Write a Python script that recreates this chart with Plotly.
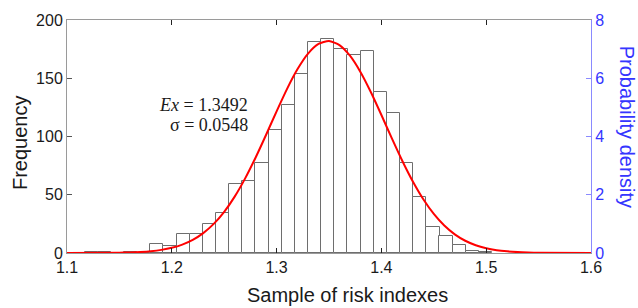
import plotly.graph_objects as go

# ---- data ----
bin_width = 0.01254
bin_centers = [1.1230, 1.1356, 1.1481, 1.1607, 1.1732, 1.1857, 1.1983, 1.2108,
               1.2234, 1.2359, 1.2485, 1.2610, 1.2736, 1.2861, 1.2986, 1.3112,
               1.3237, 1.3363, 1.3488, 1.3614, 1.3739, 1.3864, 1.3990, 1.4115,
               1.4241, 1.4366, 1.4492, 1.4617, 1.4743, 1.4868, 1.4993]
counts = [1, 1, 0, 1, 0, 8, 6, 16, 16, 25, 34, 59, 62, 77, 106, 127,
          154, 181, 184, 175, 170, 173, 138, 120, 77, 48, 22, 15, 7, 2, 1]

curve_x = [1.10, 1.15, 1.16, 1.17, 1.18, 1.19, 1.20, 1.21, 1.22, 1.23, 1.24,
           1.25, 1.26, 1.27, 1.28, 1.29, 1.30, 1.31, 1.32, 1.33, 1.34, 1.35,
           1.36, 1.37, 1.38, 1.39, 1.40, 1.41, 1.42, 1.43, 1.44, 1.45, 1.46,
           1.47, 1.48, 1.49, 1.50, 1.51, 1.52, 1.53, 1.54, 1.55, 1.60]
curve_density = [0.0, 0.010, 0.019, 0.035, 0.062, 0.107, 0.179, 0.289, 0.452,
                 0.683, 0.999, 1.414, 1.936, 2.563, 3.280, 4.061, 4.865, 5.637,
                 6.316, 6.847, 7.178, 7.279, 7.140, 6.774, 6.216, 5.518, 4.737,
                 3.934, 3.160, 2.455, 1.845, 1.341, 0.943, 0.641, 0.421, 0.268,
                 0.165, 0.098, 0.057, 0.031, 0.017, 0.009, 0.0]

ex_value = "1.3492"
sigma_value = "0.0548"

x_ticks = [1.1, 1.2, 1.3, 1.4, 1.5, 1.6]
y_ticks = [0, 50, 100, 150, 200]
y2_ticks = [0, 2, 4, 6, 8]

SANS = "Liberation Sans, Arial, sans-serif"
SERIF = "Liberation Serif, Times New Roman, serif"
BLUE_TXT = "#3535ff"
BLUE_LINE = "#8a8aff"

fig = go.Figure()
fig.add_trace(go.Bar(
    x=bin_centers, y=counts, width=bin_width,
    marker=dict(color="white", line=dict(color="#6e6e6e", width=1)),
    showlegend=False, hoverinfo="skip",
))
fig.add_trace(go.Scatter(
    x=curve_x, y=curve_density, yaxis="y2", mode="lines",
    line=dict(color="#ff0000", width=2, shape="spline", smoothing=0.6),
    showlegend=False,
))

fig.update_layout(
    width=638, height=308,
    margin=dict(l=67, r=47, t=17, b=55),
    paper_bgcolor="white", plot_bgcolor="white",
    bargap=0,
    font=dict(family=SANS, size=16, color="#1a1a1a"),
    xaxis=dict(
        range=[1.1, 1.6], tickvals=x_ticks, ticktext=[str(v) for v in x_ticks],
        ticks="inside", ticklen=5, tickcolor="#222222", tickwidth=1,
        showline=True, linecolor="#9a9a9a", linewidth=1, mirror="ticks",
        showgrid=False, zeroline=False,
        tickfont=dict(family=SANS, size=16, color="#1a1a1a"),
    ),
    yaxis=dict(
        range=[0, 200], tickvals=y_ticks,
        ticks="inside", ticklen=5, tickcolor="#555555", tickwidth=1,
        showline=True, linecolor="#9a9a9a", linewidth=1,
        showgrid=False, zeroline=False,
        tickfont=dict(family=SANS, size=16, color="#1a1a1a"),
    ),
    yaxis2=dict(
        range=[0, 8], tickvals=y2_ticks, overlaying="y", side="right",
        ticks="inside", ticklen=5, tickcolor=BLUE_LINE, tickwidth=1,
        showline=True, linecolor=BLUE_LINE, linewidth=1,
        showgrid=False, zeroline=False,
        tickfont=dict(family=SANS, size=16, color=BLUE_TXT),
    ),
    annotations=[
        dict(text="Frequency", xref="paper", yref="paper", x=0, y=0.472,
             xshift=-47, xanchor="center", yanchor="middle", textangle=-90,
             showarrow=False, font=dict(family=SANS, size=20, color="#1a1a1a")),
        dict(text="Probability density", xref="paper", yref="paper", x=1, y=0.542,
             xshift=36, xanchor="center", yanchor="middle", textangle=90,
             showarrow=False, font=dict(family=SANS, size=20, color=BLUE_TXT)),
        dict(text="Sample of risk indexes", xref="paper", yref="paper", x=0.535, y=0,
             yshift=-42, xanchor="center", yanchor="middle",
             showarrow=False, font=dict(family=SANS, size=20, color="#1a1a1a")),
        dict(text="<i>Ex</i> = " + ex_value, xref="x", yref="y", x=1.2748, y=126.7,
             xanchor="right", yanchor="middle", showarrow=False,
             font=dict(family=SERIF, size=18, color="#1a1a1a")),
        dict(text="σ = " + sigma_value, xref="x", yref="y", x=1.2748, y=109.7,
             xanchor="right", yanchor="middle", showarrow=False,
             font=dict(family=SERIF, size=18, color="#1a1a1a")),
    ],
)

fig.write_html(
    "out.html",
    config={"displayModeBar": False},
    post_script="document.body.style.margin='0';document.body.style.padding='0';",
)
